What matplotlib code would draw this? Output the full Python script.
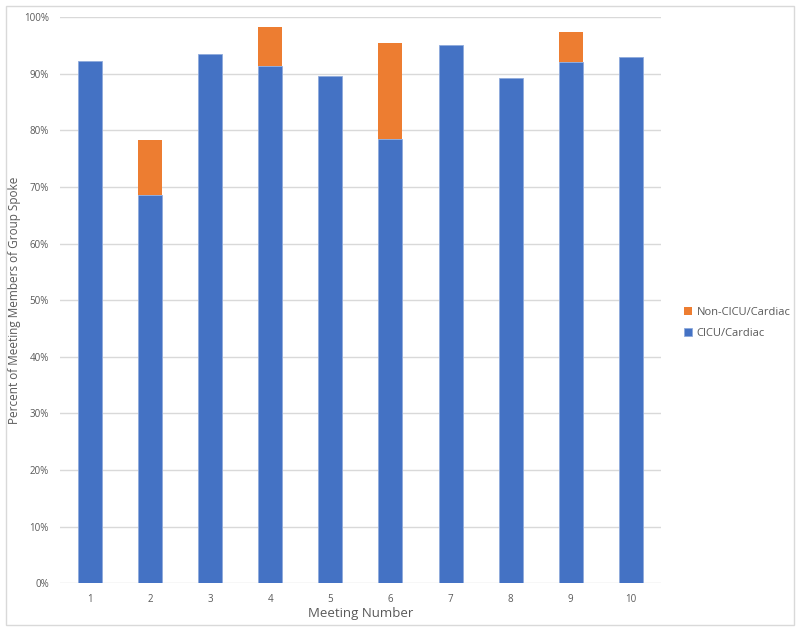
import matplotlib.pyplot as plt
from matplotlib.patches import Rectangle
from matplotlib.ticker import PercentFormatter

plt.rcParams['font.family'] = ['Open Sans', 'DejaVu Sans']

meetings = ['1', '2', '3', '4', '5', '6', '7', '8', '9', '10']
cicu = [92.3, 68.5, 93.5, 91.4, 89.5, 78.4, 95.1, 89.3, 92.0, 92.9]
non_cicu = [0, 9.7, 0, 6.8, 0, 17.0, 0, 0, 5.4, 0]

blue = '#4472C4'
orange = '#ED7D31'

fig = plt.figure(figsize=(8, 6.31), dpi=100)
ax = fig.add_axes([0.075, 0.0756, 0.751, 0.8974])

x = list(range(1, len(meetings) + 1))
ax.bar(x, cicu, width=0.4, color=blue, edgecolor='#8FAADC', linewidth=0.6,
       label='CICU/Cardiac', zorder=3)
ax.bar(x, non_cicu, width=0.4, bottom=cicu, color=orange, linewidth=0,
       label='Non-CICU/Cardiac', zorder=3)

ax.set_xlim(0.5, 10.5)
ax.set_ylim(0, 100)
ax.set_yticks(range(0, 101, 10))
ax.yaxis.set_major_formatter(PercentFormatter(decimals=0))
ax.set_xticks(x)
ax.set_xticklabels(meetings)
ax.tick_params(length=0, labelsize=7, colors='#595959', pad=8)
ax.grid(axis='y', color='#D9D9D9', linewidth=1, zorder=0)
for s in ax.spines.values():
    s.set_visible(False)

ax.set_xlabel('Meeting Number', fontsize=9.5, color='#595959', labelpad=1)
ax.set_ylabel('Percent of Meeting Members of Group Spoke', fontsize=8.5,
              color='#595959', labelpad=2)

handles, labels = ax.get_legend_handles_labels()
leg = fig.legend(handles[::-1], labels[::-1], loc='center left',
                 bbox_to_anchor=(0.843, 0.488), frameon=False, fontsize=8,
                 handlelength=0.7, handleheight=0.7, handletextpad=0.4,
                 labelspacing=0.9, labelcolor='#595959')

# chart outer border
fig.patches.append(Rectangle((0.008, 0.01), 0.984, 0.98, transform=fig.transFigure,
                             fill=False, edgecolor='#D9D9D9', linewidth=1))

fig.savefig('out.png', dpi=100)
